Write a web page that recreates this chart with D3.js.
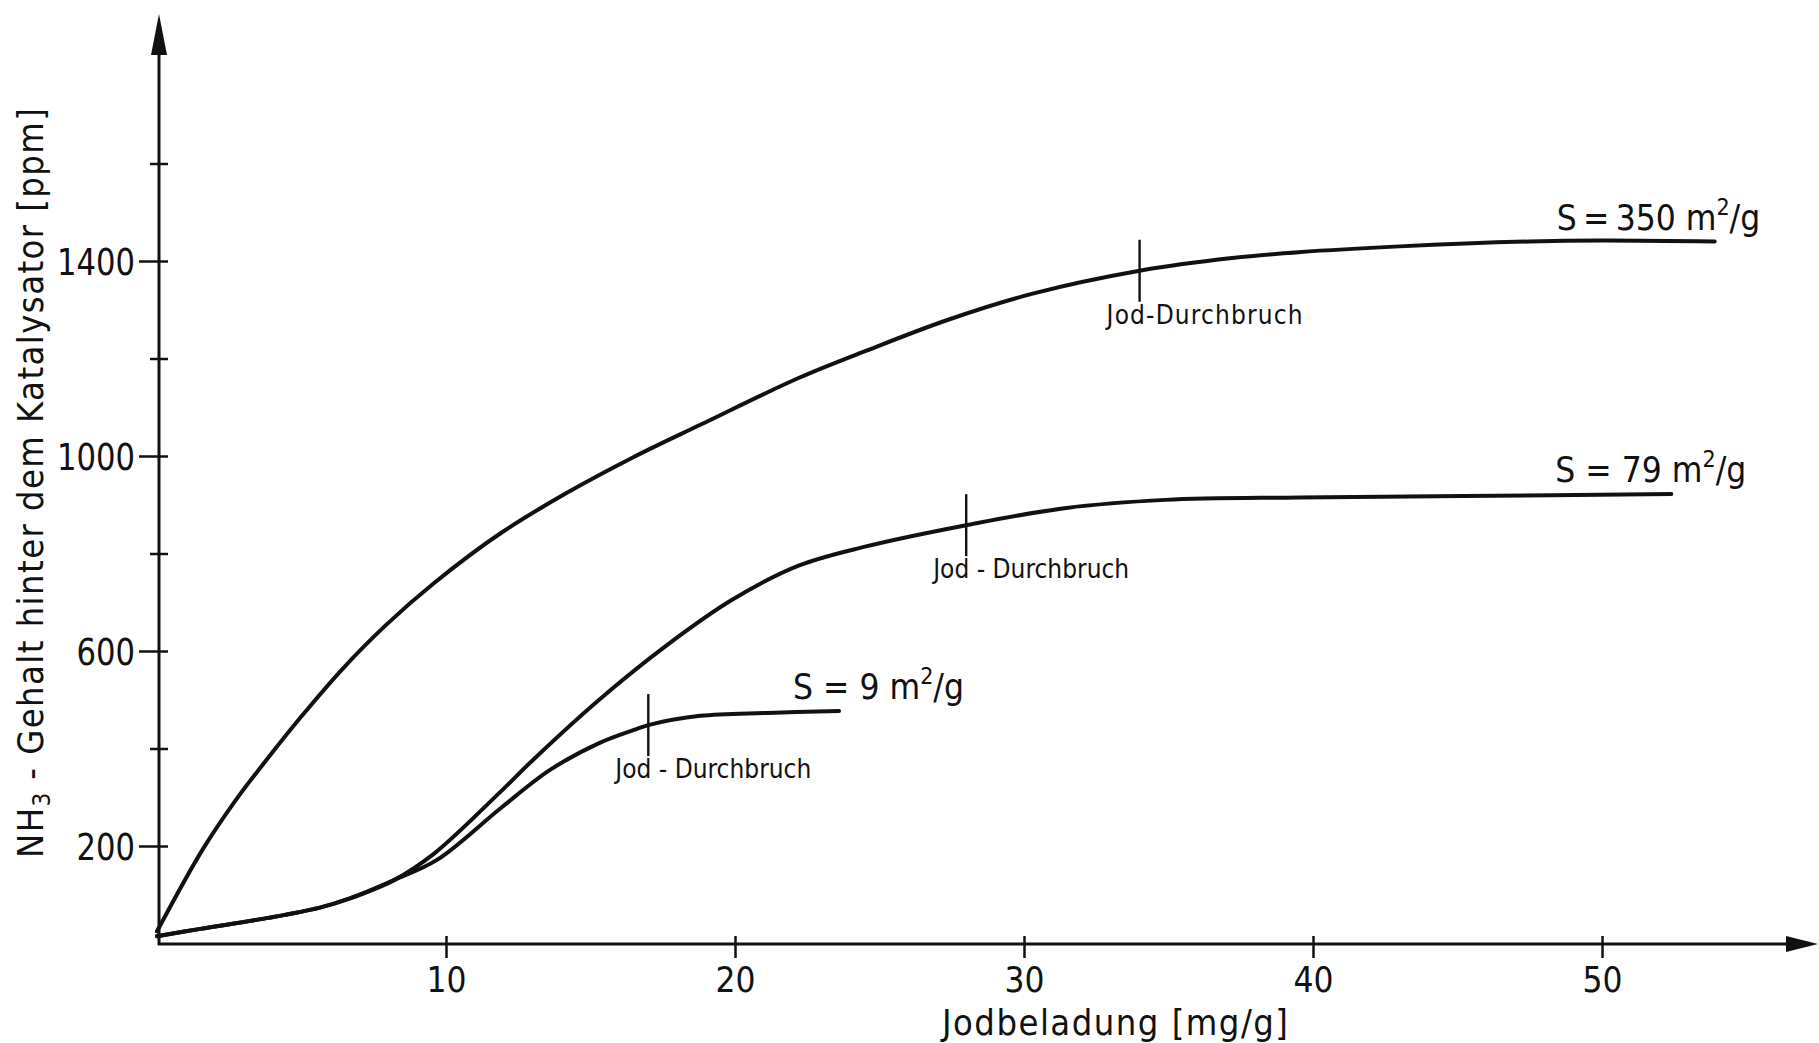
<!DOCTYPE html>
<html>
<head>
<meta charset="utf-8">
<script src="https://cdn.jsdelivr.net/npm/d3@7"></script>
<style>
  html, body { margin: 0; padding: 0; background: #fff; }
  svg { display: block; }
  text { font-family: "DejaVu Sans Condensed", "DejaVu Sans", sans-serif; fill: #111; }
</style>
</head>
<body>
<svg id="chart" width="1819" height="1043"></svg>
<script>
// NH3 content behind the catalyst vs. iodine loading, for three specific surfaces
const xTicks = [10, 20, 30, 40, 50];
const yTicks = [200, 400, 600, 800, 1000, 1200, 1400, 1600];
const yTickLabels = [200, 600, 1000, 1400];

// S = 350 m²/g
const s350X = [0, 1.55, 2.7, 3.9, 5.0, 6.4, 7.9, 9.6, 11.9, 14.2, 16.5, 18.8, 22.2, 24.5, 27.4, 30.3, 34, 37.2, 39.5, 43, 47.5, 50, 53.9];
const s350Y = [25, 190, 292, 385, 466, 562, 652, 740, 842, 925, 998, 1064, 1160, 1215, 1280, 1333, 1380, 1406, 1418, 1430, 1440, 1442, 1440];

// S = 79 m²/g
const s79X = [0, 1.5, 3.8, 5.6, 6.7, 8.2, 9.6, 11.9, 13.0, 15.3, 17.6, 19.9, 22.2, 24.5, 28, 31.4, 34.9, 39.5, 45.2, 52.4];
const s79Y = [15, 30, 52, 73, 93, 130, 185, 312, 376, 500, 610, 705, 775, 814, 858, 893, 910, 915, 918, 922];

// S = 9 m²/g
const s9X = [0, 1.5, 3.8, 5.6, 6.7, 8.2, 9.7, 11.9, 13.6, 15.3, 16.5, 17.0, 18.8, 21.1, 23.6];
const s9Y = [15, 30, 52, 73, 93, 130, 172, 278, 356, 411, 438, 448, 467, 473, 477];

const seriesNames = ["S\u2009=\u2009350 m", "S = 79 m", "S = 9 m"];
// iodine breakthrough points (x, y) on each curve
const breakX = [34, 28, 17];
const breakY = [1380, 858, 448];
const breakLabels = ["Jod-Durchbruch", "Jod - Durchbruch", "Jod - Durchbruch"];

const xTitle = "Jodbeladung  [mg/g]";

const svg = d3.select("#chart");
const x = d3.scaleLinear().domain([0, 50]).range([157, 1602]);
const y = d3.scaleLinear().domain([0, 1600]).range([943.5, 163.5]);

const ink = "#111";
const font = '"DejaVu Sans Condensed", "DejaVu Sans", sans-serif';

// axes with arrowheads
const axisG = svg.append("g");
const x0 = 159, y0 = 944;
axisG.append("line").attr("x1", x0).attr("y1", y0 + 1).attr("x2", x0).attr("y2", 40)
  .attr("stroke", ink).attr("stroke-width", 3);
axisG.append("path").attr("d", `M${x0},14 L${x0 - 8},55 L${x0 + 8},55 Z`).attr("fill", ink);
axisG.append("line").attr("x1", x0 - 1).attr("y1", y0).attr("x2", 1795).attr("y2", y0)
  .attr("stroke", ink).attr("stroke-width", 3);
axisG.append("path").attr("d", `M1818,${y0} L1786,${y0 - 8} L1786,${y0 + 8} Z`).attr("fill", ink);

// x ticks
const xAxis = d3.axisBottom(x).tickValues(xTicks).tickSize(0).tickPadding(0);
const gx = svg.append("g").attr("transform", `translate(0,${y0})`).call(xAxis);
gx.select(".domain").remove();
gx.selectAll(".tick").append("line")
  .attr("y1", -8).attr("y2", 14).attr("stroke", ink).attr("stroke-width", 2.5);
gx.selectAll(".tick text")
  .attr("y", 48).attr("dy", null)
  .attr("font-size", 36).attr("fill", ink)
  .attr("textLength", 40).attr("lengthAdjust", "spacingAndGlyphs")
  .style("font-family", font);

// y ticks
const yAxis = d3.axisLeft(y).tickValues(yTicks).tickSize(0).tickPadding(0)
  .tickFormat(d => yTickLabels.includes(d) ? d : "");
const gy = svg.append("g").attr("transform", `translate(${x0},0)`).call(yAxis);
gy.select(".domain").remove();
gy.selectAll(".tick").append("line")
  .attr("x1", d => yTickLabels.includes(d) ? -20 : -9)
  .attr("x2", 9).attr("stroke", ink).attr("stroke-width", 2.5);
gy.selectAll(".tick text")
  .filter(d => yTickLabels.includes(d))
  .attr("x", -24).attr("dy", "0.36em")
  .attr("font-size", 37).attr("fill", ink)
  .attr("textLength", d => String(d).length * 19.5).attr("lengthAdjust", "spacingAndGlyphs")
  .style("font-family", font);

// axis titles
svg.append("text")
  .attr("x", 942).attr("y", 1035)
  .attr("font-size", 36)
  .attr("textLength", 346).attr("lengthAdjust", "spacing")
  .text(xTitle);

const yt = svg.append("text")
  .attr("transform", "translate(43,858) rotate(-90)")
  .attr("font-size", 36)
  .attr("textLength", 750).attr("lengthAdjust", "spacing");
yt.append("tspan").text("NH");
yt.append("tspan").attr("font-size", 24).attr("dy", 7).text("3");
yt.append("tspan").attr("dy", -7).text(" - Gehalt  hinter  dem  Katalysator  [ppm]");

// curves
const line = d3.line().x(d => x(d[0])).y(d => y(d[1])).curve(d3.curveCatmullRom.alpha(0.5));
const series = [
  d3.zip(s350X, s350Y),
  d3.zip(s79X, s79Y),
  d3.zip(s9X, s9Y)
];
svg.append("g").selectAll("path").data(series).join("path")
  .attr("d", line)
  .attr("fill", "none").attr("stroke", ink)
  .attr("stroke-width", 4).attr("stroke-linecap", "round").attr("stroke-linejoin", "round");

// breakthrough markers and labels
const bk = svg.append("g");
breakX.forEach((bx, i) => {
  const px = x(bx), py = y(breakY[i]);
  bk.append("line").attr("x1", px).attr("x2", px).attr("y1", py - 31).attr("y2", py + 31)
    .attr("stroke", ink).attr("stroke-width", 2.4);
  bk.append("text").attr("x", px - 33).attr("y", py + 53)
    .attr("font-size", 26)
    .attr("textLength", 196).attr("lengthAdjust", "spacing")
    .text(breakLabels[i]);
});

// curve labels
const labOff = [[-158, -11.5], [-116, -12], [-46, -12]];
series.forEach((s, i) => {
  const last = s[s.length - 1];
  const t = svg.append("text")
    .attr("x", x(last[0]) + labOff[i][0]).attr("y", y(last[1]) + labOff[i][1])
    .attr("font-size", 35);
  t.append("tspan").text(seriesNames[i]);
  t.append("tspan").attr("font-size", 23).attr("dy", -15).text("2");
  t.append("tspan").attr("dy", 15).text("/g");
});
</script>
</body>
</html>
